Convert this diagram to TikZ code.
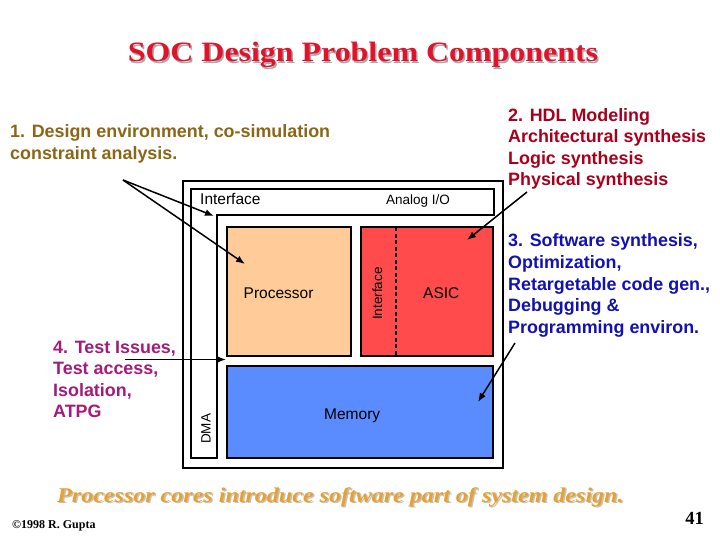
\documentclass[tikz,border=0pt]{standalone}
\usepackage{fontspec}
\setmainfont{Liberation Serif}
\setsansfont{Liberation Sans}
\usetikzlibrary{arrows.meta}
\definecolor{titlered}{HTML}{E3122B}
\definecolor{goldbrown}{HTML}{8C6616}
\definecolor{hdlred}{HTML}{A8001C}
\definecolor{swblue}{HTML}{1212B0}
\definecolor{testmag}{HTML}{A31C7A}
\definecolor{coreorange}{HTML}{E8A030}
\definecolor{procfill}{HTML}{FFCC99}
\definecolor{asicfill}{HTML}{FF4B4B}
\definecolor{memfill}{HTML}{5B8CFF}
\definecolor{shadowgray}{HTML}{A8A8A8}
\tikzset{
  boldtxt/.style={font=\sffamily\bfseries\fontsize{17.9}{21}\selectfont, inner sep=0pt, anchor=base west},
  lbl/.style={font=\sffamily\fontsize{15.5}{18}\selectfont, inner sep=0pt, anchor=base west},
  smalllbl/.style={font=\sffamily\fontsize{13.5}{16}\selectfont, inner sep=0pt, anchor=base west},
  block/.style={draw=black, line width=1.5pt},
  pointer/.style={line width=1.5pt, -{Latex[length=9pt,width=7pt]}},
}
\begin{document}
\begin{tikzpicture}[x=1pt,y=-1pt]
\useasboundingbox (0,0) rectangle (720,540);
\fill[white] (0,0) rectangle (720,540);

% title with shadow
\node[font=\bfseries\fontsize{28}{32}\selectfont, text=shadowgray, xscale=1.14, inner sep=0pt, anchor=base] (titleshadow) at (364.5,63.5) {SOC Design Problem Components};
\node[font=\bfseries\fontsize{28}{32}\selectfont, text=titlered, xscale=1.14, inner sep=0pt, anchor=base] (title) at (363,62) {SOC Design Problem Components};

% outer chip box
\draw[line width=2pt] (183,181) rectangle (502.5,468) ;
% L-shaped interface / DMA strip
\draw[line width=1.8pt] (191,189) -- (494,189) -- (494,215) -- (217,215) -- (217,458) -- (191,458) -- cycle;

% blocks
\draw[block, fill=procfill] (227,227) rectangle (351,356);
\draw[block, fill=asicfill] (361,227) rectangle (493,356);
\draw[line width=1.5pt, dash pattern=on 4pt off 2.5pt] (396,227) -- (396,356);
\draw[block, fill=memfill] (227,366) rectangle (493,458);

% labels in the chip
\node[lbl] (ifacetop) at (200,205) {Interface};
\node[smalllbl] (analog) at (386,205) {Analog I/O};
\node[lbl] (proc) at (243.5,298) {Processor};
\node[lbl] (asic) at (423,298) {ASIC};
\node[lbl] (mem) at (324,419) {Memory};
\node[smalllbl, rotate=90] (ifaceside) at (382,320) {Interface};
\node[smalllbl, rotate=90] (dma) at (210.5,444) {DMA};

% text groups
\node[boldtxt, text=goldbrown] (t1a) at (10,138) {1. Design environment, co-simulation};
\node[boldtxt, text=goldbrown] (t1b) at (10,160) {constraint analysis.};

\node[boldtxt, text=hdlred] (t2a) at (508,121.5) {2. HDL Modeling};
\node[boldtxt, text=hdlred] (t2b) at (508,143) {Architectural synthesis};
\node[boldtxt, text=hdlred] (t2c) at (508,164.5) {Logic synthesis};
\node[boldtxt, text=hdlred] (t2d) at (508,186) {Physical synthesis};

\node[boldtxt, text=swblue] (t3a) at (508,247) {3. Software synthesis,};
\node[boldtxt, text=swblue] (t3b) at (508,268.5) {Optimization,};
\node[boldtxt, text=swblue] (t3c) at (508,290) {Retargetable code gen.,};
\node[boldtxt, text=swblue] (t3d) at (508,311.5) {Debugging \&};
\node[boldtxt, text=swblue] (t3e) at (508,333) {Programming environ.};

\node[boldtxt, text=testmag] (t4a) at (53,353) {4. Test Issues,};
\node[boldtxt, text=testmag] (t4b) at (53,374.5) {Test access,};
\node[boldtxt, text=testmag] (t4c) at (53,396) {Isolation,};
\node[boldtxt, text=testmag] (t4d) at (53,417.5) {ATPG};

% arrows
\coordinate (a1s) at (123,180);
\coordinate (a1e) at (214,216);
\coordinate (a1f) at (245,264);
\coordinate (a2s) at (527,192);
\coordinate (a2e) at (467,240);
\coordinate (a3s) at (515,343);
\coordinate (a3e) at (478,402);
\coordinate (a4s) at (125,359.5);
\coordinate (a4e) at (226,359.5);
\draw[pointer] (a1s) -- (a1e);
\draw[pointer] (a1s) -- (a1f);
\draw[pointer] (a2s) -- (a2e);
\draw[pointer] (a3s) -- (a3e);
\draw[pointer] (a4s) -- (a4e);

% bottom line with shadow
\node[font=\bfseries\itshape\fontsize{21}{24}\selectfont, text=shadowgray!70, xscale=1.145, inner sep=0pt, anchor=base west] (coreshadow) at (58.5,503.5) {Processor cores introduce software part of system design.};
\node[font=\bfseries\itshape\fontsize{21}{24}\selectfont, text=coreorange, xscale=1.145, inner sep=0pt, anchor=base west] (core) at (57,502) {Processor cores introduce software part of system design.};

\node[font=\bfseries\fontsize{12}{14}\selectfont, inner sep=0pt, anchor=base west] (copy) at (12,528) {©1998 R. Gupta};
\node[font=\bfseries\fontsize{18.5}{20}\selectfont, inner sep=0pt, anchor=base east] (pagenum) at (704,524) {41};
\end{tikzpicture}
\end{document}
